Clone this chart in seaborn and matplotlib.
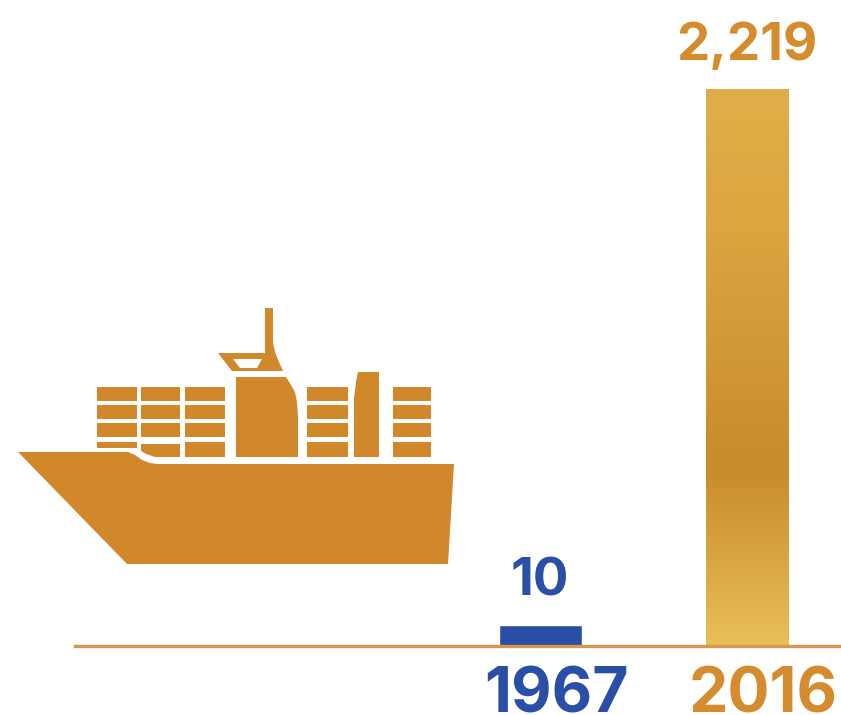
import numpy as np
import pandas as pd
import matplotlib
matplotlib.use("Agg")
import matplotlib.pyplot as plt
from matplotlib.colors import LinearSegmentedColormap
from matplotlib.patches import Polygon, Rectangle
from matplotlib.transforms import ScaledTranslation
import seaborn as sns

years = ["1967", "2016"]
value_labels = ["10", "2,219"]
# the 1967 bar is drawn taller than its value in the original graphic
bar_heights = [84, 2219]

BLUE = "#2a4fa6"
GOLD = "#d48c2e"
SHIP = "#d0882b"
LINE = "#d8964f"

sns.set_theme(style="white")
plt.rcParams["font.family"] = ["Inter", "DejaVu Sans"]

W, H = 841, 715
fig = plt.figure(figsize=(W / 100, H / 100), dpi=100)
ax = fig.add_axes([0, 0, 1, 1])
ax.patch.set_alpha(0)

df = pd.DataFrame({"year": years, "height": bar_heights})
sns.barplot(data=df, x="year", y="height", hue="year", palette=[BLUE, "#dfaa45"],
            width=83 / 207, legend=False, ax=ax, saturation=1)

units_per_px = 2219 / 557
px_per_cat = 207
xl = -540 / px_per_cat
ylim = (-(H - 646) * units_per_px, 646 * units_per_px)

# gradient fill of the 2016 bar
bar = ax.patches[1]
cmap = LinearSegmentedColormap.from_list(
    "gold", [(0, "#e0ae48"), (0.25, "#dca540"), (0.68, "#c98b2c"), (0.88, "#dcab47"), (1, "#e8bf58")])
grad = np.linspace(0, 1, 256).reshape(-1, 1)
im = ax.imshow(grad, cmap=cmap, aspect="auto", zorder=bar.get_zorder() + 0.1, origin="upper",
               extent=[bar.get_x(), bar.get_x() + bar.get_width(), 0, bar.get_height()])
im.set_clip_path(bar)
ax.set_xlim(xl, xl + W / px_per_cat)
ax.set_ylim(*ylim)

# axis
for s in ["top", "left", "right"]:
    ax.spines[s].set_visible(False)
ax.spines["bottom"].set_position(("data", 0))
ax.spines["bottom"].set_color(LINE)
ax.spines["bottom"].set_linewidth(2.4)
ax.spines["bottom"].set_bounds(xl + 75 / px_per_cat, xl + W / px_per_cat)
ax.spines["bottom"].set_zorder(5)
ax.set_xlabel("")
ax.set_ylabel("")
ax.set_yticks([])
ax.tick_params(axis="x", length=0, pad=14.5)
shift = ScaledTranslation(16 / 100, 0, fig.dpi_scale_trans)
for t, c in zip(ax.get_xticklabels(), [BLUE, GOLD]):
    t.set_color(c)
    t.set_fontsize(45)
    t.set_fontweight("bold")
    t.set_transform(t.get_transform() + shift)

# value labels
ax.bar_label(ax.containers[0], labels=[value_labels[0]], padding=13, color=BLUE,
             fontsize=38, fontweight="bold")
ax.bar_label(ax.containers[1], labels=[value_labels[1]], padding=13, color=GOLD,
             fontsize=38, fontweight="bold")

# ship icon, on an overlay in pixel coordinates
ov = fig.add_axes([0, 0, 1, 1])
ov.set_xlim(0, W)
ov.set_ylim(H, 0)
ov.axis("off")
ov.patch.set_alpha(0)

def poly(points, color=SHIP):
    ov.add_patch(Polygon(points, closed=True, facecolor=color, edgecolor="none"))

poly([(18, 452), (128, 452), (135, 455), (142, 460), (150, 463), (158, 464), (454, 464), (448, 564), (127, 564)])
poly([(236, 377), (286, 377), (291, 385), (295, 392), (297, 402), (298, 417), (298, 457), (236, 457)])
poly([(358, 372), (379, 372), (379, 457), (354, 457), (354, 398), (356, 382)])
poly([(265, 308), (273, 308), (273, 343), (275, 352), (279, 362), (283, 371), (232, 371), (218, 353), (265, 353)])
poly([(233, 359), (262, 359), (257, 368), (240, 368)], "white")

cols = [(97, 137), (141, 180), (185, 225), (307, 348), (393, 431)]
rows = [(387, 401), (405, 419), (423, 437), (442, 457)]
for i, (x0, x1) in enumerate(cols):
    for j, (y0, y1) in enumerate(rows):
        if j == 3 and i == 0:
            ov.add_patch(Rectangle((x0, y0), x1 - x0, 6, facecolor=SHIP, edgecolor="none"))
        elif j == 3 and i == 1:
            poly([(x0, y0 + 2), (x1, y0 + 2), (x1, y1), (155, y1), (146, 454), (x0, 451)])
        else:
            ov.add_patch(Rectangle((x0, y0), x1 - x0, y1 - y0, facecolor=SHIP, edgecolor="none"))

fig.savefig("out.png", dpi=100)
